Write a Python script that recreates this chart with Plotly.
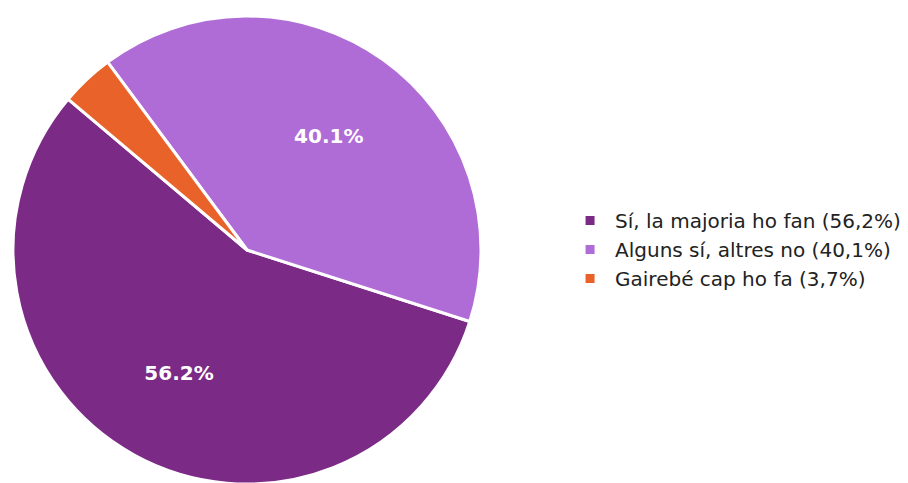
import plotly.graph_objects as go

categories = ["Sí, la majoria ho fan (56,2%)", "Alguns sí, altres no (40,1%)", "Gairebé cap ho fa (3,7%)"]
values = [56.2, 40.1, 3.7]
colors = ["#7B2A86", "#B06CD6", "#E8622A"]

W, H = 908, 483
OFF = 8  # page body margin
dom = dict(x=[(13 - OFF) / W, (481 - OFF) / W],
           y=[1 - (485 - OFF) / H, 1 - (15 - OFF) / H])

fig = go.Figure()
fig.add_trace(go.Pie(
    labels=categories,
    values=values,
    sort=False,
    direction="counterclockwise",
    rotation=107.8,
    marker=dict(colors=colors, line=dict(color="white", width=3)),
    textinfo="none",
    domain=dom,
    hoverinfo="label+percent",
))
# transparent overlay only to position the percentage labels
fig.add_trace(go.Pie(
    labels=categories,
    values=values,
    sort=False,
    direction="counterclockwise",
    rotation=107.8,
    hole=0.2,
    marker=dict(colors=["rgba(0,0,0,0)"] * 3, line=dict(width=0)),
    texttemplate=["%{percent:.1%}", "%{percent:.1%}", ""],
    textposition="inside",
    insidetextorientation="horizontal",
    textfont=dict(family="DejaVu Sans", size=20, color="white", weight="bold"),
    domain=dom,
    showlegend=False,
    hoverinfo="skip",
))

fig.update_layout(
    width=W, height=H,
    margin=dict(l=0, r=0, t=0, b=0),
    paper_bgcolor="white",
    plot_bgcolor="white",
    font=dict(family="DejaVu Sans", size=20, color="#222222"),
    legend=dict(x=0.6135, y=0.5, xanchor="left", yanchor="middle",
                font=dict(family="DejaVu Sans", size=20, color="#222222"),
                itemwidth=40),
)

fig.write_html("out.html")
